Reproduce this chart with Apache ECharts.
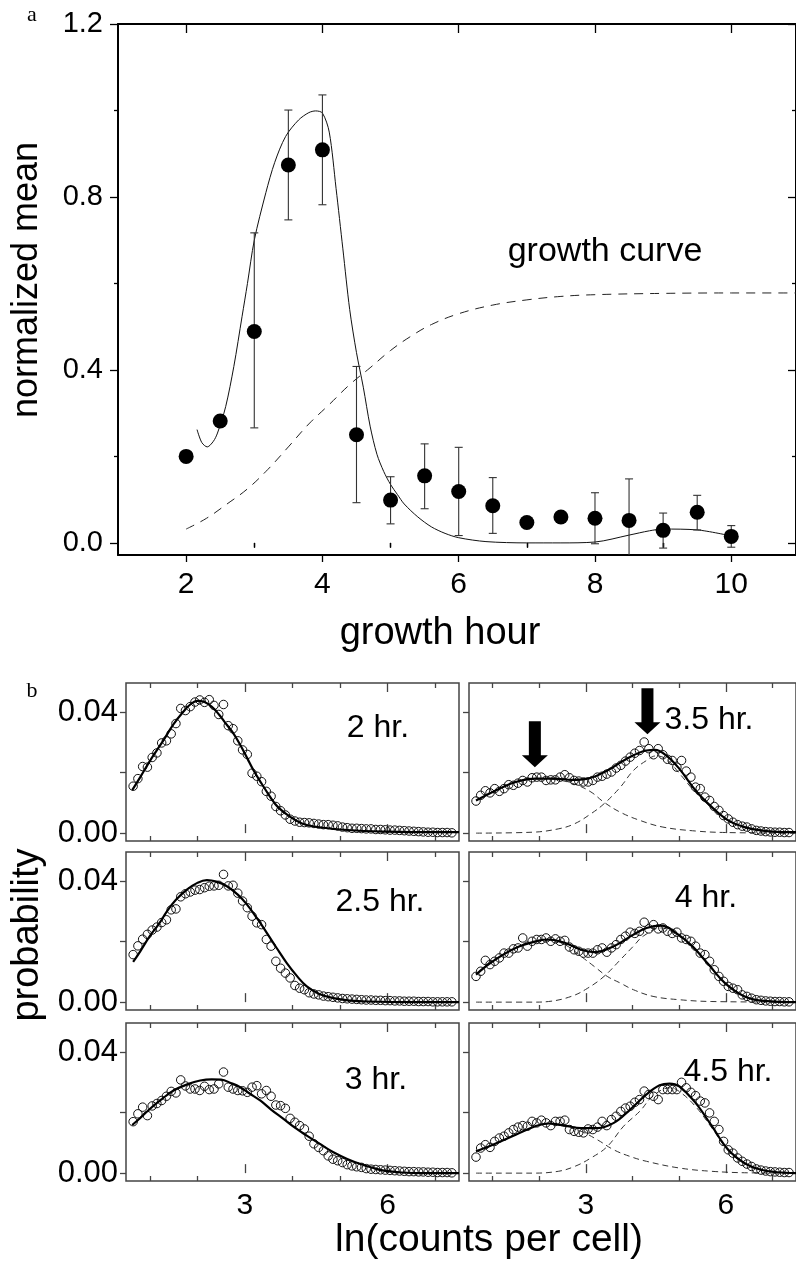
<!DOCTYPE html>
<html>
<head>
<meta charset="utf-8">
<script src="https://cdn.jsdelivr.net/npm/echarts@6/dist/echarts.min.js"></script>
<style>
html, body { margin: 0; padding: 0; background: #fff; }
#chart { width: 796px; height: 1261px; }
</style>
</head>
<body>
<div id="chart"></div>
<script>
// ---- panel a: normalized mean vs growth hour ----
var hours = [2, 2.5, 3, 3.5, 4, 4.5, 5, 5.5, 6, 6.5, 7, 7.5, 8, 8.5, 9, 9.5, 10];
var meanVals = [0.200, 0.282, 0.489, 0.874, 0.909, 0.250, 0.099, 0.155, 0.119, 0.086, 0.047, 0.060, 0.057, 0.052, 0.029, 0.071, 0.015];
var errLow = [null, null, 0.266, 0.747, 0.782, 0.093, 0.044, 0.079, 0.017, 0.022, null, null, -0.002, -0.045, -0.012, 0.030, -0.010];
var errHigh = [null, null, 0.717, 1.001, 1.036, 0.408, 0.153, 0.229, 0.221, 0.151, null, null, 0.116, 0.148, 0.069, 0.110, 0.040];

var fitCurve = [[2.16,0.262],[2.23,0.232],[2.31,0.222],[2.40,0.235],[2.46,0.254],[2.58,0.315],[2.70,0.408],[2.82,0.523],[2.90,0.600],[3.00,0.700],[3.17,0.810],[3.30,0.880],[3.46,0.940],[3.65,0.978],[3.80,0.995],[3.90,0.999],[4.00,0.994],[4.10,0.950],[4.20,0.820],[4.30,0.680],[4.40,0.540],[4.50,0.440],[4.60,0.360],[4.70,0.270],[4.80,0.205],[4.90,0.165],[5.00,0.135],[5.10,0.112],[5.20,0.090],[5.40,0.060],[5.60,0.037],[5.80,0.022],[6.00,0.012],[6.40,0.003],[7.00,0.000],[7.50,0.000],[8.00,0.002],[8.50,0.018],[8.80,0.028],[9.00,0.032],[9.50,0.030],[10.00,0.016]];

var growthCurve = [[2.0,0.032],[2.3,0.057],[2.6,0.090],[2.9,0.125],[3.2,0.170],[3.5,0.222],[3.8,0.275],[4.1,0.320],[4.4,0.366],[4.7,0.405],[5.0,0.445],[5.3,0.478],[5.6,0.505],[6.0,0.530],[6.5,0.550],[7.0,0.562],[7.5,0.570],[8.0,0.574],[9.0,0.577],[10.0,0.578],[11.0,0.578]];

var hourTicks = [2, 4, 6, 8, 10];
var hourMinor = [3, 5, 7, 9];
var meanTicks = [0, 0.4, 0.8, 1.2];
var meanMinor = [0.2, 0.6, 1.0];

// ---- panel b: distributions of ln(counts per cell) ----
var binCenters = [0.65,0.75,0.85,0.95,1.05,1.15,1.25,1.35,1.45,1.55,1.65,1.75,1.85,1.95,2.05,2.15,2.25,2.35,2.45,2.55,2.65,2.75,2.85,2.95,3.05,3.15,3.25,3.35,3.45,3.55,3.65,3.75,3.85,3.95,4.05,4.15,4.25,4.35,4.45,4.55,4.65,4.75,4.85,4.95,5.05,5.15,5.25,5.35,5.45,5.55,5.65,5.75,5.85,5.95,6.05,6.15,6.25,6.35,6.45,6.55,6.65,6.75,6.85,6.95,7.05,7.15,7.25,7.35];

var prob2h = [0.0155,0.0180,0.0220,0.0218,0.0250,0.0265,0.0298,0.0305,0.0328,0.0362,0.0412,0.0405,0.0418,0.0433,0.0440,0.0432,0.0441,0.0422,0.0392,0.0425,0.0355,0.0345,0.0305,0.0275,0.0260,0.0198,0.0188,0.0170,0.0138,0.0122,0.0088,0.0074,0.0060,0.0046,0.0040,0.0036,0.0035,0.0034,0.0032,0.0030,0.0028,0.0028,0.0026,0.0024,0.0020,0.0018,0.0016,0.0016,0.0015,0.0014,0.0014,0.0012,0.0012,0.0011,0.0010,0.0010,0.0009,0.0008,0.0007,0.0006,0.0005,0.0004,0.0003,0.0003,0.0002,0.0002,0.0002,0.0001];
var prob25h = [0.0157,0.0186,0.0208,0.0224,0.0238,0.0248,0.0263,0.0272,0.0305,0.0308,0.0348,0.0358,0.0364,0.0370,0.0372,0.0378,0.0383,0.0384,0.0386,0.0422,0.0384,0.0386,0.0360,0.0334,0.0312,0.0284,0.0262,0.0256,0.0207,0.0185,0.0135,0.0112,0.0096,0.0080,0.0055,0.0046,0.0041,0.0031,0.0027,0.0024,0.0020,0.0018,0.0016,0.0014,0.0012,0.0011,0.0010,0.0009,0.0008,0.0007,0.0007,0.0006,0.0006,0.0005,0.0005,0.0004,0.0004,0.0003,0.0003,0.0003,0.0002,0.0002,0.0002,0.0001,0.0001,0.0001,0.0001,0.0001];
var prob3h = [0.0170,0.0196,0.0218,0.0190,0.0222,0.0230,0.0240,0.0254,0.0270,0.0265,0.0308,0.0288,0.0278,0.0278,0.0273,0.0287,0.0276,0.0278,0.0295,0.0334,0.0284,0.0278,0.0273,0.0272,0.0267,0.0284,0.0289,0.0262,0.0273,0.0254,0.0225,0.0223,0.0214,0.0181,0.0168,0.0157,0.0146,0.0122,0.0097,0.0085,0.0074,0.0057,0.0046,0.0041,0.0035,0.0028,0.0024,0.0021,0.0019,0.0015,0.0013,0.0012,0.0011,0.0010,0.0009,0.0008,0.0007,0.0006,0.0005,0.0005,0.0004,0.0004,0.0003,0.0003,0.0002,0.0002,0.0002,0.0001];
var prob35h = [0.0106,0.0125,0.0140,0.0133,0.0147,0.0138,0.0147,0.0160,0.0158,0.0165,0.0174,0.0169,0.0183,0.0185,0.0185,0.0174,0.0176,0.0176,0.0185,0.0193,0.0183,0.0174,0.0172,0.0169,0.0169,0.0174,0.0185,0.0188,0.0195,0.0202,0.0215,0.0224,0.0238,0.0251,0.0264,0.0273,0.0301,0.0279,0.0259,0.0279,0.0259,0.0244,0.0240,0.0218,0.0240,0.0205,0.0185,0.0152,0.0147,0.0119,0.0108,0.0088,0.0075,0.0058,0.0047,0.0036,0.0028,0.0023,0.0020,0.0014,0.0009,0.0007,0.0005,0.0004,0.0003,0.0003,0.0002,0.0002];
var prob4h = [0.0085,0.0102,0.0138,0.0124,0.0135,0.0146,0.0162,0.0162,0.0176,0.0179,0.0212,0.0185,0.0201,0.0207,0.0207,0.0212,0.0201,0.0209,0.0201,0.0204,0.0182,0.0173,0.0168,0.0162,0.0162,0.0162,0.0173,0.0179,0.0165,0.0179,0.0190,0.0207,0.0218,0.0231,0.0227,0.0234,0.0264,0.0242,0.0256,0.0242,0.0245,0.0234,0.0227,0.0231,0.0212,0.0207,0.0201,0.0185,0.0162,0.0157,0.0135,0.0107,0.0085,0.0069,0.0052,0.0046,0.0041,0.0024,0.0019,0.0013,0.0008,0.0006,0.0004,0.0003,0.0002,0.0002,0.0001,0.0001];
var prob45h = [0.0053,0.0083,0.0094,0.0085,0.0105,0.0116,0.0122,0.0133,0.0144,0.0152,0.0157,0.0155,0.0171,0.0166,0.0175,0.0166,0.0157,0.0171,0.0171,0.0175,0.0144,0.0138,0.0135,0.0133,0.0146,0.0144,0.0152,0.0171,0.0157,0.0177,0.0188,0.0204,0.0215,0.0221,0.0234,0.0243,0.0271,0.0260,0.0254,0.0243,0.0276,0.0276,0.0276,0.0276,0.0300,0.0282,0.0267,0.0256,0.0238,0.0232,0.0199,0.0171,0.0144,0.0105,0.0077,0.0066,0.0050,0.0039,0.0030,0.0022,0.0014,0.0010,0.0007,0.0005,0.0004,0.0003,0.0002,0.0002];

var fit2h = [[0.63,0.0142],[0.8,0.0185],[1.0,0.0238],[1.15,0.0274],[1.3,0.0310],[1.5,0.0360],[1.7,0.0400],[1.85,0.0425],[2.0,0.0437],[2.15,0.0433],[2.3,0.0418],[2.45,0.0393],[2.6,0.0362],[2.76,0.0329],[2.9,0.0292],[3.05,0.0247],[3.18,0.0208],[3.35,0.0164],[3.53,0.0120],[3.7,0.0085],[3.95,0.0054],[4.2,0.0032],[4.5,0.0021],[5.0,0.0012],[5.5,0.0007],[6.0,0.0005],[7.0,0.0003],[7.5,0.0003]];
var fit25h = [[0.65,0.0133],[0.8,0.0168],[1.0,0.0218],[1.2,0.0260],[1.36,0.0300],[1.55,0.0338],[1.78,0.0372],[2.0,0.0394],[2.2,0.0403],[2.4,0.0398],[2.62,0.0383],[2.85,0.0355],[3.04,0.0323],[3.25,0.0278],[3.46,0.0229],[3.67,0.0178],[3.88,0.0129],[4.1,0.0085],[4.3,0.0052],[4.55,0.0028],[4.86,0.0013],[5.22,0.0005],[5.6,0.0002],[6.5,0.0],[7.5,0.0]];
var fit3h = [[0.63,0.0159],[0.8,0.0182],[1.0,0.0212],[1.25,0.0244],[1.5,0.0273],[1.8,0.0294],[2.06,0.0306],[2.3,0.0310],[2.5,0.0309],[2.7,0.0298],[2.9,0.0284],[3.1,0.0263],[3.32,0.0240],[3.55,0.0210],[3.81,0.0179],[4.05,0.0150],[4.3,0.0124],[4.6,0.0094],[4.86,0.0069],[5.15,0.0047],[5.43,0.0030],[5.7,0.0017],[5.92,0.0008],[6.3,0.0002],[6.8,0.0],[7.5,0.0]];
var fit35h = [[0.65,0.0108],[1.15,0.0147],[1.5,0.0169],[1.92,0.0180],[2.34,0.0180],[2.69,0.0176],[3.04,0.0180],[3.46,0.0207],[3.88,0.0246],[4.3,0.0273],[4.48,0.0275],[4.72,0.0257],[5.0,0.0213],[5.35,0.0141],[5.7,0.0086],[6.05,0.0042],[6.4,0.0020],[6.75,0.0009],[7.1,0.0004],[7.5,0.0003]];
var left35h = [[0.65,0.0108],[1.0,0.0136],[1.5,0.0168],[1.95,0.0180],[2.35,0.0177],[2.76,0.0162],[3.11,0.0136],[3.39,0.0102],[3.74,0.0069],[4.16,0.0042],[4.65,0.0020],[5.35,0.0007],[6.0,0.0002],[7.5,0.0]];
var right35h = [[0.65,0.0],[1.85,0.0003],[2.41,0.0014],[2.76,0.0031],[3.11,0.0064],[3.39,0.0097],[3.74,0.0152],[4.02,0.0207],[4.3,0.0240],[4.5,0.0255],[4.72,0.0245],[5.0,0.0198],[5.35,0.0134],[5.7,0.0082],[6.05,0.0040],[6.4,0.0019],[6.75,0.0008],[7.5,0.0001]];
var fit4h = [[0.65,0.0091],[1.01,0.0135],[1.5,0.0179],[1.99,0.0203],[2.2,0.0207],[2.55,0.0196],[2.9,0.0173],[3.18,0.0165],[3.6,0.0185],[4.02,0.0223],[4.3,0.0245],[4.62,0.0253],[4.93,0.0229],[5.28,0.0185],[5.63,0.0124],[5.98,0.0063],[6.4,0.0019],[6.82,0.0004],[7.5,0.0]];
var left4h = [[0.65,0.0091],[1.01,0.0135],[1.5,0.0179],[2.0,0.0202],[2.2,0.0205],[2.55,0.0190],[2.9,0.0151],[3.18,0.0118],[3.46,0.0085],[3.74,0.0063],[4.02,0.0041],[4.44,0.0019],[5.0,0.0008],[5.7,0.0002],[7.5,0.0]];
var right4h = [[0.65,0.0],[1.9,0.0],[2.2,0.0002],[2.69,0.0019],[3.04,0.0046],[3.39,0.0085],[3.74,0.0140],[4.02,0.0185],[4.23,0.0218],[4.62,0.0245],[4.93,0.0224],[5.28,0.0182],[5.63,0.0122],[5.98,0.0062],[6.4,0.0019],[6.82,0.0004],[7.5,0.0]];
var fit45h = [[0.65,0.0072],[1.01,0.0094],[1.5,0.0127],[1.92,0.0155],[2.2,0.0164],[2.55,0.0157],[2.9,0.0149],[3.25,0.0149],[3.6,0.0166],[3.95,0.0210],[4.3,0.0260],[4.58,0.0290],[4.79,0.0296],[5.0,0.0287],[5.35,0.0232],[5.7,0.0155],[6.05,0.0077],[6.4,0.0033],[6.75,0.0011],[7.1,0.0003],[7.5,0.0]];
var left45h = [[0.65,0.0072],[1.01,0.0094],[1.5,0.0127],[1.92,0.0155],[2.2,0.0162],[2.55,0.0154],[2.9,0.0138],[3.25,0.0110],[3.6,0.0077],[3.95,0.0055],[4.3,0.0039],[5.0,0.0017],[5.7,0.0006],[6.5,0.0001],[7.5,0.0]];
var right45h = [[0.65,0.0],[1.85,0.0],[2.41,0.0006],[2.76,0.0022],[3.11,0.0050],[3.46,0.0088],[3.81,0.0155],[4.16,0.0205],[4.44,0.0255],[4.8,0.0282],[5.0,0.0270],[5.35,0.0220],[5.7,0.0149],[6.05,0.0074],[6.4,0.0031],[6.75,0.0010],[7.5,0.0]];

var arrowTips = [[1.91, 0.0218], [4.32, 0.0327]];

var lnTicks = [3, 6];
var lnMinor = [1, 2, 4, 5, 7];
var probTicks = [0, 0.02, 0.04];
var probLabels = [0, 0.04];

// ---- layout helpers ----
var FONT = 'Liberation Sans';
var grids = [], xAxes = [], yAxes = [], series = [];

function axis(gi, pos, min, max, ticks, len, inside, tickColor, line, labels, labelOpt) {
    return {
        type: 'value', gridIndex: gi, position: pos, min: min, max: max,
        axisLine: line ? { show: true, onZero: false, lineStyle: line } : { show: false },
        axisTick: { show: true, inside: inside, length: len, customValues: ticks,
            lineStyle: { color: tickColor, width: 1.3 } },
        axisLabel: labels ? Object.assign({ show: true, customValues: labels, color: '#000',
            fontFamily: FONT }, labelOpt) : { show: false },
        splitLine: { show: false },
        minorTick: { show: false }
    };
}
function addX(a) { xAxes.push(a); return xAxes.length - 1; }
function addY(a) { yAxes.push(a); return yAxes.length - 1; }

// panel a
grids.push({ left: 118, top: 24, width: 682, height: 531 });
var frameA = { color: '#000', width: 2 };
var xa = addX(axis(0, 'bottom', 1, 10.95, hourTicks, 7, false, '#000', frameA, hourTicks, { fontSize: 30, margin: 15 }));
addX(axis(0, 'bottom', 1, 10.95, hourMinor, 4, false, '#000', null));
addX(axis(0, 'top', 1, 10.95, hourTicks, 9, true, '#000', frameA));
addX(axis(0, 'top', 1, 10.95, hourMinor, 5, true, '#000', null));
var ya = addY(axis(0, 'left', -0.028, 1.2, meanTicks, 8, false, '#000', frameA, meanTicks,
    { fontSize: 29, margin: 15, formatter: function (v) { return v.toFixed(1); } }));
addY(axis(0, 'left', -0.028, 1.2, meanMinor, 4, false, '#000', null));
addY(axis(0, 'right', -0.028, 1.2, meanTicks, 8, true, '#000', frameA));
addY(axis(0, 'right', -0.028, 1.2, meanMinor, 4, true, '#000', null));

series.push({
    type: 'line', xAxisIndex: xa, yAxisIndex: ya, data: growthCurve, smooth: 0.4,
    symbol: 'none', lineStyle: { color: '#222', width: 1, type: [9, 7] }, z: 2
});
series.push({
    type: 'line', xAxisIndex: xa, yAxisIndex: ya, data: fitCurve, smooth: 0.3,
    symbol: 'none', lineStyle: { color: '#111', width: 1 }, z: 2
});
series.push({
    type: 'custom', xAxisIndex: xa, yAxisIndex: ya, clip: true, z: 3,
    data: hours.map(function (h, i) { return errLow[i] === null ? null : [h, errLow[i], errHigh[i]]; })
        .filter(function (d) { return d; }),
    renderItem: function (params, api) {
        var lo = api.coord([api.value(0), api.value(1)]);
        var hi = api.coord([api.value(0), api.value(2)]);
        var st = { stroke: '#333', lineWidth: 1.1 };
        return { type: 'group', children: [
            { type: 'line', shape: { x1: lo[0], y1: lo[1], x2: hi[0], y2: hi[1] }, style: st },
            { type: 'line', shape: { x1: hi[0] - 4, y1: hi[1], x2: hi[0] + 4, y2: hi[1] }, style: st },
            { type: 'line', shape: { x1: lo[0] - 4, y1: lo[1], x2: lo[0] + 4, y2: lo[1] }, style: st }
        ] };
    }
});
series.push({
    type: 'scatter', xAxisIndex: xa, yAxisIndex: ya, symbolSize: 15, z: 4,
    itemStyle: { color: '#000', opacity: 1 },
    data: hours.map(function (h, i) { return [h, meanVals[i]]; })
});

// panel b
var panels = [
    { col: 0, row: 0, probs: prob2h, fit: fit2h },
    { col: 0, row: 1, probs: prob25h, fit: fit25h },
    { col: 0, row: 2, probs: prob3h, fit: fit3h },
    { col: 1, row: 0, probs: prob35h, fit: fit35h, parts: [left35h, right35h], arrows: true },
    { col: 1, row: 1, probs: prob4h, fit: fit4h, parts: [left4h, right4h] },
    { col: 1, row: 2, probs: prob45h, fit: fit45h, parts: [left45h, right45h] }
];
var colLeft = [126, 469], rowTop = [683, 852, 1023];
var PMIN = -0.0026, PMAX = 0.0496;

panels.forEach(function (p) {
    var gi = grids.length;
    grids.push({ left: colLeft[p.col], top: rowTop[p.row], width: 333, height: 158,
        show: true, borderColor: '#444', borderWidth: 1.5, backgroundColor: 'transparent' });
    var bottomLabels = p.row === 2 ? lnTicks : null;
    var xi = addX(axis(gi, 'bottom', 0.5, 7.5, lnTicks, 9, true, '#444', null, bottomLabels,
        { fontSize: 30, margin: 10 }));
    addX(axis(gi, 'bottom', 0.5, 7.5, lnMinor, 5, true, '#444', null));
    addX(axis(gi, 'top', 0.5, 7.5, lnTicks, 9, true, '#444', null));
    addX(axis(gi, 'top', 0.5, 7.5, lnMinor, 5, true, '#444', null));
    var yi = addY(axis(gi, 'left', PMIN, PMAX, probTicks, 6, false, '#444', null,
        p.col === 0 ? probLabels : null,
        { fontSize: 31, margin: 8, formatter: function (v) { return v.toFixed(2); } }));

    if (p.parts) {
        p.parts.forEach(function (part) {
            series.push({ type: 'line', xAxisIndex: xi, yAxisIndex: yi, data: part, smooth: 0.4,
                symbol: 'none', lineStyle: { color: '#333', width: 1, type: [6, 4] }, z: 2 });
        });
    }
    series.push({
        type: 'scatter', xAxisIndex: xi, yAxisIndex: yi, symbol: 'circle', symbolSize: 8.5, z: 3,
        itemStyle: { color: 'rgba(255,255,255,0)', borderColor: '#111', borderWidth: 1, opacity: 1 },
        data: binCenters.map(function (x, i) { return [x, p.probs[i]]; })
    });
    series.push({ type: 'line', xAxisIndex: xi, yAxisIndex: yi, data: p.fit, smooth: 0.4,
        symbol: 'none', lineStyle: { color: '#000', width: 2.2 }, z: 4 });
    if (p.arrows) {
        series.push({
            type: 'scatter', xAxisIndex: xi, yAxisIndex: yi, data: arrowTips, z: 5,
            symbol: 'path://M7,0 L19,0 L19,34 L26,34 L13,46 L0,34 L7,34 Z',
            symbolSize: [26, 46], symbolKeepAspect: false, symbolOffset: [0, '-50%'],
            itemStyle: { color: '#000', opacity: 1 }
        });
    }
});

function txt(x, y, s, size, rot, fam) {
    return { type: 'text', x: x, y: y, rotation: rot || 0, z: 10,
        style: { text: s, fontSize: size, fontFamily: fam || FONT, fill: '#000',
            align: 'center', verticalAlign: 'middle' } };
}

var graphics = [
    txt(32, 15, 'a', 22, 0, 'Liberation Serif'),
    txt(32, 691, 'b', 22, 0, 'Liberation Serif'),
    txt(27, 280, 'normalized mean', 36, Math.PI / 2),
    txt(440, 634, 'growth hour', 38),
    txt(605, 252, 'growth curve', 34),
    txt(28, 935, 'probability', 38, Math.PI / 2),
    txt(489, 1240, 'ln(counts per cell)', 39),
    txt(378, 728, '2 hr.', 32),
    txt(380, 902, '2.5 hr.', 32),
    txt(376, 1080, '3 hr.', 32),
    txt(709, 720, '3.5 hr.', 32),
    txt(706, 898, '4 hr.', 32),
    txt(728, 1072, '4.5 hr.', 32)
];

var chart = echarts.init(document.getElementById('chart'), null, { renderer: 'canvas' });
chart.setOption({
    backgroundColor: '#fff',
    animation: false,
    grid: grids,
    xAxis: xAxes,
    yAxis: yAxes,
    series: series,
    graphic: graphics
});
</script>
</body>
</html>
